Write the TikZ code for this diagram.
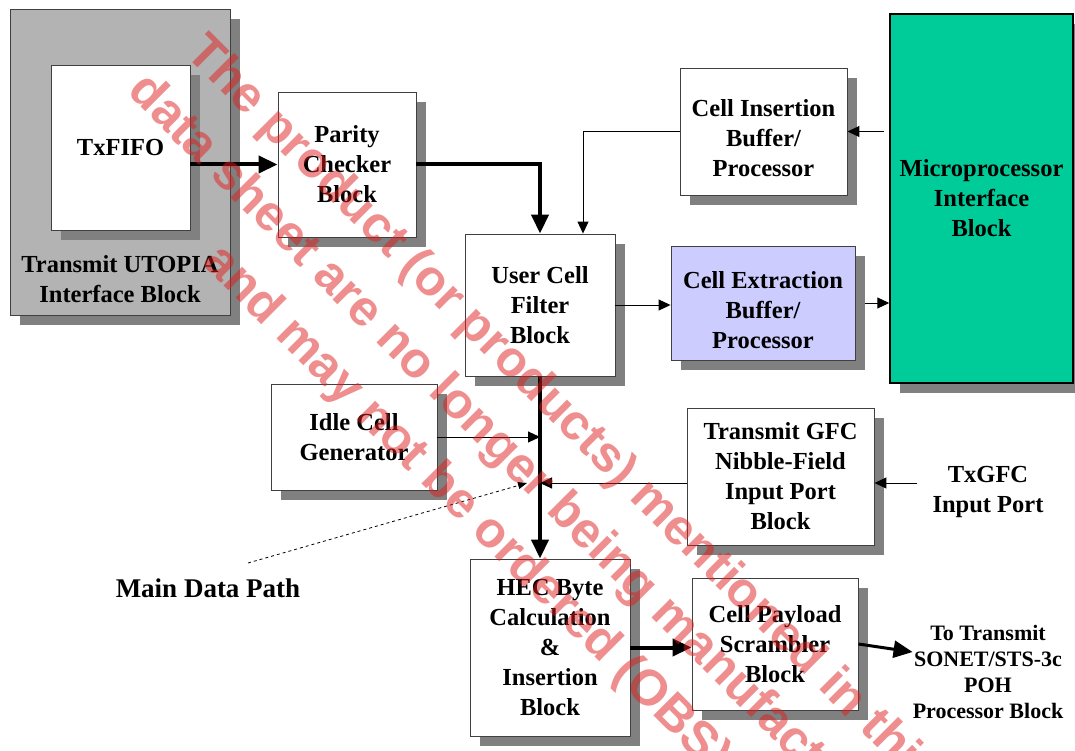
\documentclass[tikz,border=0pt]{standalone}
\usepackage{fontspec}
\setmainfont{Liberation Serif}
\newfontfamily\wmfont{Liberation Sans}
\usetikzlibrary{arrows.meta,shadows}

\definecolor{boxgray}{RGB}{179,179,179}
\definecolor{shadowgray}{RGB}{128,128,128}
\definecolor{extblue}{RGB}{204,204,255}
\definecolor{upgreen}{RGB}{0,204,153}
\definecolor{obsred}{RGB}{225,30,30}

\newcommand{\blockfont}{\fontsize{24.5}{30}\selectfont\bfseries}

\tikzstyle{block}    = [rectangle, draw=black!75, line width=0.9pt, fill=white, align=center, inner sep=0pt, font=\blockfont,
                        drop shadow={shadow xshift=10pt, shadow yshift=-10pt, fill=shadowgray, opacity=1}]
\tikzstyle{textonly} = [align=center, inner sep=0pt, font=\blockfont]
\tikzstyle{flow}     = [draw, line width=1pt, -{Triangle[length=12pt, width=11pt]}]
\tikzstyle{bigflow}  = [draw, line width=4pt, -{Triangle[length=19pt, width=17pt]}]
\tikzstyle{obsnote}  = [text=obsred, text opacity=0.5, align=center, inner sep=0pt, font=\wmfont\bfseries\fontsize{50}{68}\selectfont]

\begin{document}
\begin{tikzpicture}[x=1pt, y=-1pt]
    \path[use as bounding box, fill=white] (0,0) rectangle (1075,751);

    \node[block, fill=boxgray, minimum width=220pt, minimum height=306pt] (utopia) at (120,162) {};
    \node[textonly, below of=utopia, node distance=117pt] (utopiatext) {Transmit UTOPIA\\Interface Block};
    \node[block, minimum width=139pt, minimum height=165pt] (txfifo) at (120.5,147.5) {TxFIFO};
    \node[block, minimum width=138pt, minimum height=145pt] (parity) at (347,164.5) {Parity\\Checker\\Block};
    \node[block, minimum width=150pt, minimum height=142pt] (usercell) at (540,305) {User Cell\\Filter\\Block};
    \node[block, minimum width=167pt, minimum height=127pt] (cellins) at (763.5,131.5) {\rule{0pt}{31pt}Cell Insertion\\Buffer/\\Processor};
    \node[block, fill=extblue, minimum width=184pt, minimum height=114pt] (cellext) at (763,303) {\rule{0pt}{31pt}Cell Extraction\\Buffer/\\Processor};
    \node[block, draw=black, line width=1.5pt, fill=upgreen, minimum width=183pt, minimum height=369pt] (micro) at (981.5,198.5) {Microprocessor\\Interface\\Block};
    \node[block, minimum width=166pt, minimum height=106pt] (idle) at (354,437) {Idle Cell\\Generator};
    \node[block, minimum width=187pt, minimum height=137pt] (gfc) at (780.5,476.5) {Transmit GFC\\Nibble-Field\\Input Port\\Block};
    \node[block, minimum width=160pt, minimum height=177pt] (hec) at (550,647.5) {HEC Byte\\Calculation\\\&\\Insertion\\Block};
    \node[block, minimum width=166pt, minimum height=132pt] (payload) at (775,644) {Cell Payload\\Scrambler\\Block};
    \node[textonly] (txgfc) at (988,492) {TxGFC\\Input Port};
    \node[textonly, font=\fontsize{22}{26}\selectfont\bfseries] (sonet) at (988,672) {To Transmit\\SONET/STS-3c\\POH\\Processor Block};
    \node[textonly, font=\fontsize{27}{32}\selectfont\bfseries] (mdp) at (208,588) {Main Data Path};
    \coordinate (mdpfoot) at (248,563);
    \coordinate (mdptip) at (527,483);

    % data path
    \path [bigflow] (txfifo.east |- parity.west) -- (parity.west);
    \path [bigflow] (parity.east) -| (usercell.north);
    \path [bigflow] (usercell.south) -- (usercell.south |- hec.north);
    \path [bigflow] (hec.east) -- (hec.east -| payload.west);
    \path [bigflow, line width=3pt] (payload.east) -- ([yshift=20pt]sonet.west);

    % side paths
    \path [flow] (cellins.west) -| ([xshift=43pt]usercell.north);
    \path [flow] ([xshift=-5pt]micro.west |- cellins.east) -- (cellins.east);
    \path [flow] (usercell.east) -- (usercell.east -| cellext.west);
    \path [flow] ([xshift=10pt]cellext.east) -- (cellext.east -| micro.west);
    \path [flow] (idle.east) -- (idle.east -| usercell.south);
    \path [flow] ([yshift=-6.5pt]gfc.west) -- ([yshift=-6.5pt]gfc.west -| usercell.south);
    \path [flow] ([xshift=-15pt, yshift=9pt]txgfc.west) -- ([yshift=-6.5pt]gfc.east);
    \path [draw, dashed, line width=0.8pt, -{Triangle[length=9pt, width=7pt]}] (mdpfoot) -- (mdptip);

    % obsolete stamp
    \node[obsnote, rotate=-45] (stamp) at (514,462) {The product (or products) mentioned in this\\data sheet are no longer being manufactured\\and may not be ordered (OBS)};
\end{tikzpicture}
\end{document}
